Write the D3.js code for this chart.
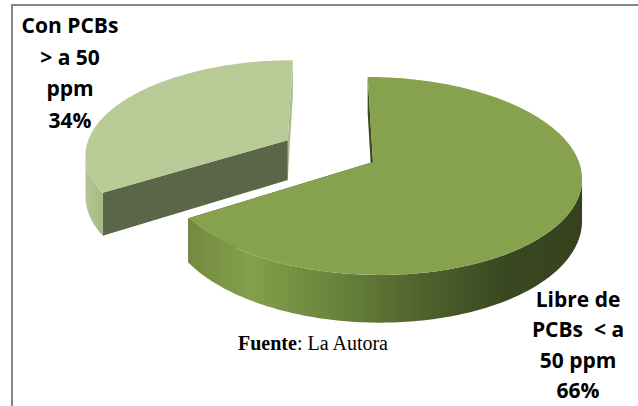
<!DOCTYPE html>
<html><head><meta charset="utf-8">
<script src="https://cdn.jsdelivr.net/npm/d3@7"></script>
<style>html,body{margin:0;padding:0;background:#fff;overflow:hidden}</style>
</head><body><svg id="c" width="638" height="406"></svg>
<script>
// ---- data ----
const categories = ["Libre de PCBs  < a 50 ppm", "Con PCBs > a 50 ppm"];
const values = [66, 34];
const percentLabels = ["66%", "34%"];
const labelLines = [["Libre de", "PCBs  < a", "50 ppm", "66%"], ["Con PCBs", "> a 50", "ppm", "34%"]];
const explodeFactor = [0, 0.48];
const sourceBold = "Fuente";
const sourceRest = ": La Autora";

// ---- styles ----
const topColors = ["#87a24f", "#b8cb96"];
const faceColors = [["#3a481f", "#3a481f"], ["#5b6548", "#a9bc89"]];

const svg = d3.select("#c");
const defs = svg.append("defs");

// border
svg.append("rect").attr("x", 12).attr("y", 5).attr("width", 700).attr("height", 500)
  .attr("fill", "none").attr("stroke", "#868686").attr("stroke-width", 2);

// projection (simple perspective of a tilted disc)
const X0 = 330, CX = 373, CY = 162, A = 206, B = 97, P = 0.141, H = 41;
function pt(sl, th, r, bottom) {
  const u = sl.ou + r * Math.sin(th), v = sl.ov - r * Math.cos(th);
  const s = 1 / (1 - P * v);
  return [X0 + (CX + A * u - X0) * s, CY + (B * v + (bottom ? H : 0)) * s];
}

const pie = d3.pie().sort(null).value(d => d)(values);
const slices = pie.map((d, i) => {
  const mid = (d.startAngle + d.endAngle) / 2;
  const e = explodeFactor[i];
  return { i, a0: d.startAngle, a1: d.endAngle, ou: e * Math.sin(mid), ov: -e * Math.cos(mid) };
});

function arcPts(sl, a, b, bottom) {
  const n = Math.max(2, Math.ceil(Math.abs(b - a) / (Math.PI / 180)));
  const out = [];
  for (let k = 0; k <= n; k++) out.push(pt(sl, a + (b - a) * k / n, 1, bottom));
  return out;
}
function silhouette(sl) {
  let best = [0, -1e9], worst = [0, 1e9];
  for (let t = 0; t <= 2 * Math.PI; t += 0.002) {
    const x = pt(sl, t, 1, false)[0];
    if (t < Math.PI && x > best[1]) best = [t, x];
    if (t > Math.PI && x < worst[1]) worst = [t, x];
  }
  return [best[0], worst[0]];
}
const line = d3.line();

// gradients
const g0 = defs.append("linearGradient").attr("id", "wall0").attr("gradientUnits", "userSpaceOnUse")
  .attr("x1", 187).attr("x2", 583).attr("y1", 0).attr("y2", 0);
[[0, "#72893f"], [0.16, "#83a04b"], [0.4, "#66803a"], [0.62, "#4c5e2b"], [0.8, "#3a4822"], [1, "#35421d"]]
  .forEach(s => g0.append("stop").attr("offset", s[0]).attr("stop-color", s[1]));
const g1 = defs.append("linearGradient").attr("id", "wall1").attr("gradientUnits", "userSpaceOnUse")
  .attr("x1", 87).attr("x2", 110).attr("y1", 0).attr("y2", 0);
[[0, "#b3c792"], [1, "#9fb27f"]].forEach(s => g1.append("stop").attr("offset", s[0]).attr("stop-color", s[1]));

// draw small (back) slice first, then big slice
[1, 0].forEach(idx => {
  const sl = slices[idx];
  const g = svg.append("g");
  const c0 = pt(sl, 0, 0, false), c1 = pt(sl, 0, 0, true);
  [[sl.a1, faceColors[idx][1]], [sl.a0, faceColors[idx][0]]].forEach(([th, col]) => {
    g.append("path").attr("d", line([c0, pt(sl, th, 1, false), pt(sl, th, 1, true), c1]) + "Z").attr("fill", col);
  });
  const [tR, tL] = silhouette(sl);
  const lo = Math.max(sl.a0, tR), hi = Math.min(sl.a1, tL);
  if (hi > lo) {
    const pts = arcPts(sl, lo, hi, false).concat(arcPts(sl, hi, lo, true));
    g.append("path").attr("d", line(pts) + "Z").attr("fill", `url(#wall${idx})`);
  }
  g.append("path").attr("d", line([c0].concat(arcPts(sl, sl.a0, sl.a1, false))) + "Z").attr("fill", topColors[idx]);
});

// labels
const labelPos = [{ x: 578, y: 307, dy: 30.3 }, { x: 70, y: 33, dy: 31.7 }];
labelLines.forEach((lines, i) => {
  const t = svg.append("text").attr("text-anchor", "middle")
    .attr("font-family", "'Open Sans', sans-serif").attr("font-weight", "bold")
    .attr("font-size", 21).attr("fill", "#000").style("white-space", "pre");
  lines.forEach((s, k) => t.append("tspan").attr("x", labelPos[i].x).attr("y", labelPos[i].y + k * labelPos[i].dy).text(s));
});

// source
const src = svg.append("text").attr("x", 238).attr("y", 350)
  .attr("font-family", "'Liberation Serif', 'Times New Roman', serif").attr("font-size", 20).attr("fill", "#000");
src.append("tspan").attr("font-weight", "bold").text(sourceBold);
src.append("tspan").text(sourceRest);
</script></body></html>
